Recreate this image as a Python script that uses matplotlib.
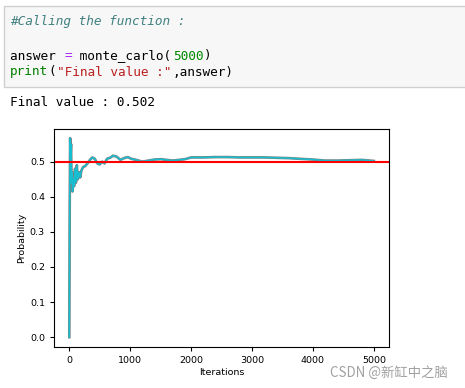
import matplotlib.pyplot as plt
from matplotlib.patches import Rectangle

# running estimate
iterations = [1, 8, 15, 22, 30, 38, 48, 55, 65, 80, 95, 110, 125, 140, 160, 180,
              200, 230, 260, 300, 340, 380, 420, 460, 500, 540, 580, 620, 680,
              720, 780, 840, 900, 960, 1020, 1100, 1200, 1300, 1400, 1500, 1600,
              1700, 1800, 1900, 2000, 2200, 2400, 2600, 2800, 3000, 3200, 3400,
              3600, 3800, 4000, 4200, 4400, 4600, 4800, 5000]
probability = [0.0, 0.375, 0.567, 0.52, 0.55, 0.44, 0.47, 0.415, 0.45, 0.43,
               0.48, 0.44, 0.49, 0.45, 0.47, 0.455, 0.475, 0.485, 0.487, 0.495,
               0.505, 0.512, 0.508, 0.495, 0.492, 0.5, 0.495, 0.508, 0.512,
               0.517, 0.514, 0.505, 0.51, 0.513, 0.508, 0.505, 0.5, 0.503, 0.506,
               0.507, 0.505, 0.503, 0.505, 0.507, 0.512, 0.512, 0.513, 0.513,
               0.512, 0.512, 0.512, 0.511, 0.51, 0.508, 0.506, 0.503, 0.503,
               0.504, 0.505, 0.502]
target = 0.5

code_lines = [
    [("#Calling the function :", "#408080", "italic")],
    [],
    [("answer ", "#000000", "normal"), ("=", "#AA22FF", "normal"),
     (" monte_carlo(", "#000000", "normal"), ("5000", "#008800", "normal"),
     (")", "#000000", "normal")],
    [("print", "#008000", "normal"), ("(", "#000000", "normal"),
     ('"Final value :"', "#BA2121", "normal"), (",answer)", "#000000", "normal")],
]
output_text = "Final value : 0.502"

W, H = 465, 388
fig = plt.figure(figsize=(W / 100, H / 100), dpi=100)

# notebook cell
fig.patches.append(Rectangle((4 / W, 1 - 87 / H), 470 / W, 81 / H,
                             transform=fig.transFigure, facecolor="#f7f7f7",
                             edgecolor="#cfcfcf", linewidth=1))
mono = "DejaVu Sans Mono"
char_w = 7.75 / W
line_y = [22, 39, 56, 72]
for row, parts in zip(line_y, code_lines):
    col = 0
    for txt, color, style in parts:
        fig.text(10 / W + col * char_w, 1 - row / H, txt, family=mono,
                 fontsize=9.2, color=color, style=style, va="center")
        col += len(txt)
fig.text(10 / W, 1 - 102 / H, output_text, family=mono, fontsize=9.2,
         color="black", va="center")

# plot
ax = fig.add_axes([54 / W, 1 - 347 / H, 335 / W, 218 / H])
ax.plot(iterations, probability, color="tab:gray", linewidth=1.9)
ax.plot(iterations, probability, color="tab:cyan", linewidth=1.1)
ax.axhline(target, color="red", linewidth=1.5)
ax.set_xlim(-250, 5249)
ax.set_ylim(-0.028, 0.593)
ax.set_xticks([0, 1000, 2000, 3000, 4000, 5000])
ax.set_yticks([0.0, 0.1, 0.2, 0.3, 0.4, 0.5])
ax.tick_params(labelsize=6.8, length=3, width=0.8)
ax.set_xlabel("Iterations", fontsize=6.8, labelpad=2)
ax.set_ylabel("Probability", fontsize=6.8, labelpad=3)
for s in ax.spines.values():
    s.set_linewidth(0.8)

fig.text(330 / W, 1 - 373 / H, "CSDN @新缸中之脑", fontsize=9.6, color="#a0a0a0",
         va="center", family=["Noto Sans CJK SC", "DejaVu Sans"])

fig.savefig("out.png", dpi=100)
